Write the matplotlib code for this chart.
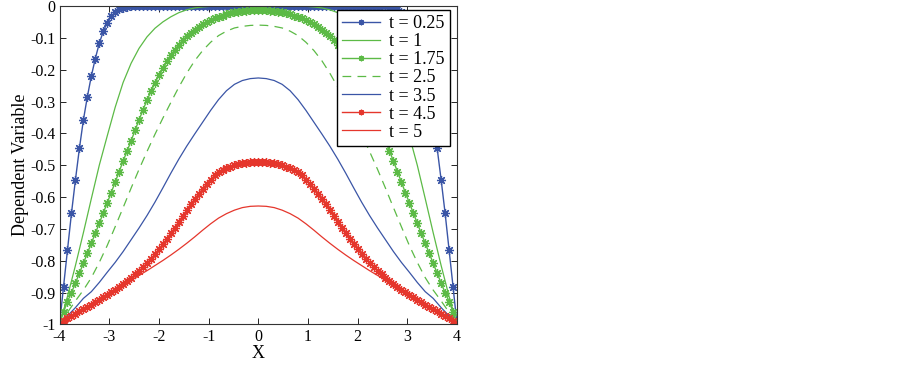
import numpy as np
import matplotlib
matplotlib.use("Agg")
import matplotlib.pyplot as plt

plt.rcParams['font.family'] = ['Liberation Serif', 'DejaVu Serif']
plt.rcParams['axes.unicode_minus'] = False

# x grids (dense for marked series, coarser for plain lines)
x_fine = np.linspace(-4, 4, 101)
x_coarse = np.linspace(-4, 4, 51)

t025 = [-1.000, -0.882, -0.766, -0.651, -0.546, -0.447, -0.358, -0.285, -0.220, -0.165,
        -0.117, -0.080, -0.052, -0.032, -0.019, -0.010, -0.005, -0.002, -0.001,
        0, 0, 0, 0, 0, 0, 0, 0, 0, 0, 0, 0, 0, 0, 0, 0, 0, 0, 0, 0, 0,
        0, 0, 0, 0, 0, 0, 0, 0, 0, 0, 0, 0, 0, 0, 0, 0, 0, 0, 0, 0, 0,
        0, 0, 0, 0, 0, 0, 0, 0, 0, 0, 0, 0, 0, 0, 0, 0, 0, 0, 0, 0, 0,
        -0.001, -0.002, -0.005, -0.010, -0.019, -0.032, -0.052, -0.080, -0.117,
        -0.165, -0.220, -0.285, -0.358, -0.447, -0.546, -0.651, -0.766, -0.882, -1.000]

t1 = [-1.000, -0.912, -0.815, -0.712, -0.605, -0.500, -0.408, -0.318, -0.240, -0.180,
      -0.133, -0.097, -0.070, -0.050, -0.034, -0.021, -0.012, -0.006, -0.003, -0.001,
      -0.001, -0.001, -0.001, -0.001, -0.001, -0.001, -0.001, -0.001, -0.001, -0.001, -0.001,
      -0.001, -0.003, -0.006, -0.012, -0.021, -0.034, -0.050, -0.070, -0.097, -0.133,
      -0.180, -0.240, -0.318, -0.408, -0.500, -0.605, -0.712, -0.815, -0.912, -1.000]

t175 = [-1.000, -0.960, -0.928, -0.900, -0.870, -0.839, -0.808, -0.776, -0.745, -0.714,
        -0.682, -0.650, -0.618, -0.586, -0.553, -0.520, -0.487, -0.455, -0.424, -0.390,
        -0.358, -0.326, -0.296, -0.268, -0.242, -0.217, -0.194, -0.173, -0.154, -0.137,
        -0.121, -0.107, -0.095, -0.084, -0.074, -0.065, -0.057, -0.050, -0.044, -0.039,
        -0.034, -0.030, -0.026, -0.023, -0.020, -0.018, -0.016, -0.015, -0.014, -0.013,
        -0.013,
        -0.013, -0.014, -0.015, -0.016, -0.018, -0.020, -0.023, -0.026, -0.030, -0.034,
        -0.039, -0.044, -0.050, -0.057, -0.065, -0.074, -0.084, -0.095, -0.107, -0.121,
        -0.137, -0.154, -0.173, -0.194, -0.217, -0.242, -0.268, -0.296, -0.326, -0.358,
        -0.390, -0.424, -0.455, -0.487, -0.520, -0.553, -0.586, -0.618, -0.650, -0.682,
        -0.714, -0.745, -0.776, -0.808, -0.839, -0.870, -0.900, -0.928, -0.960, -1.000]

t25 = [-1.000, -0.962, -0.926, -0.892, -0.853, -0.805, -0.752, -0.693, -0.633, -0.572,
       -0.513, -0.457, -0.403, -0.352, -0.303, -0.255, -0.211, -0.172, -0.140, -0.114,
       -0.093, -0.079, -0.069, -0.064, -0.061, -0.060,
       -0.061, -0.064, -0.069, -0.079, -0.093, -0.114, -0.140, -0.172, -0.211, -0.255,
       -0.303, -0.352, -0.403, -0.457, -0.513, -0.572, -0.633, -0.693, -0.752, -0.805,
       -0.853, -0.892, -0.926, -0.962, -1.000]

t35 = [-1.000, -0.973, -0.947, -0.918, -0.897, -0.868, -0.836, -0.805, -0.771, -0.734,
       -0.697, -0.658, -0.616, -0.571, -0.525, -0.481, -0.440, -0.402, -0.365, -0.328,
       -0.294, -0.266, -0.246, -0.234, -0.228, -0.226,
       -0.228, -0.234, -0.246, -0.266, -0.294, -0.328, -0.365, -0.402, -0.440, -0.481,
       -0.525, -0.571, -0.616, -0.658, -0.697, -0.734, -0.771, -0.805, -0.836, -0.868,
       -0.897, -0.918, -0.947, -0.973, -1.000]

t45 = [-1.000, -0.990, -0.980, -0.973, -0.966, -0.959, -0.952, -0.945, -0.938, -0.930,
       -0.923, -0.915, -0.907, -0.899, -0.891, -0.882, -0.873, -0.864, -0.854, -0.843,
       -0.832, -0.820, -0.807, -0.794, -0.779, -0.764, -0.748, -0.731, -0.714, -0.696,
       -0.677, -0.659, -0.641, -0.623, -0.606, -0.590, -0.574, -0.559, -0.545, -0.532,
       -0.521, -0.514, -0.509, -0.504, -0.500, -0.497, -0.494, -0.492, -0.490, -0.489,
       -0.489,
       -0.489, -0.490, -0.492, -0.494, -0.497, -0.500, -0.504, -0.509, -0.514, -0.521,
       -0.532, -0.545, -0.559, -0.574, -0.590, -0.606, -0.623, -0.641, -0.659, -0.677,
       -0.696, -0.714, -0.731, -0.748, -0.764, -0.779, -0.794, -0.807, -0.820, -0.832,
       -0.843, -0.854, -0.864, -0.873, -0.882, -0.891, -0.899, -0.907, -0.915, -0.923,
       -0.930, -0.938, -0.945, -0.952, -0.959, -0.966, -0.973, -0.980, -0.990, -1.000]

t5 = [-1.000, -0.985, -0.969, -0.953, -0.937, -0.921, -0.906, -0.891, -0.876, -0.861,
      -0.846, -0.831, -0.815, -0.799, -0.782, -0.764, -0.745, -0.725, -0.704, -0.684,
      -0.666, -0.652, -0.641, -0.633, -0.629, -0.628,
      -0.629, -0.633, -0.641, -0.652, -0.666, -0.684, -0.704, -0.725, -0.745, -0.764,
      -0.782, -0.799, -0.815, -0.831, -0.846, -0.861, -0.876, -0.891, -0.906, -0.921,
      -0.937, -0.953, -0.969, -0.985, -1.000]

labels = ["t = 0.25", "t = 1", "t = 1.75", "t = 2.5", "t = 3.5", "t = 4.5", "t = 5"]
xticks = [-4, -3, -2, -1, 0, 1, 2, 3, 4]
yticks = [0, -0.1, -0.2, -0.3, -0.4, -0.5, -0.6, -0.7, -0.8, -0.9, -1]
ytick_labels = ["0", "-0.1", "-0.2", "-0.3", "-0.4", "-0.5", "-0.6", "-0.7", "-0.8", "-0.9", "-1"]

blue = "#3a55a6"
green = "#5cba46"
red = "#e5362c"
star = (8, 2, 0)
mk = dict(marker=star, ms=6.5, mew=0.9)

fig = plt.figure(figsize=(9.02, 3.65), dpi=100)
ax = fig.add_axes([0.066, 0.111, 0.4407, 0.8726])

ax.plot(x_fine, t025, color=blue, lw=1.0, label=labels[0], **mk)
ax.plot(x_coarse, t1, color=green, lw=0.9, label=labels[1])
ax.plot(x_fine, t175, color=green, lw=1.0, label=labels[2], **mk)
ax.plot(x_coarse, t25, color=green, lw=0.9, ls=(0, (7, 5)), label=labels[3])
ax.plot(x_coarse, t35, color=blue, lw=0.9, label=labels[4])
ax.plot(x_fine, t45, color=red, lw=1.0, label=labels[5], **mk)
ax.plot(x_coarse, t5, color=red, lw=0.9, label=labels[6])

ax.set_xlim(-4, 4)
ax.set_ylim(-1, 0)
ax.set_xticks(xticks)
ax.set_xticklabels([str(v) for v in xticks])
ax.set_yticks(yticks)
ax.set_yticklabels(ytick_labels)
ax.tick_params(direction='in', top=True, right=True, length=4, width=0.6, labelsize=11.5, pad=3)
for s in ax.spines.values():
    s.set_linewidth(0.8)
    s.set_color('#333333')
ax.set_xlabel("X", fontsize=13, labelpad=0)
ax.set_ylabel("Dependent Variable", fontsize=13, labelpad=1)

leg = ax.legend(loc='upper right', bbox_to_anchor=(0.983, 0.988), fontsize=13,
                frameon=True, fancybox=False, edgecolor='black', framealpha=1,
                handlelength=2.1, borderpad=0.3, labelspacing=0.06, handletextpad=0.5,
                borderaxespad=0.0)
leg.get_frame().set_linewidth(1.0)
for h in leg.get_lines():
    h.set_markersize(4)

fig.savefig("out.png", dpi=100)
